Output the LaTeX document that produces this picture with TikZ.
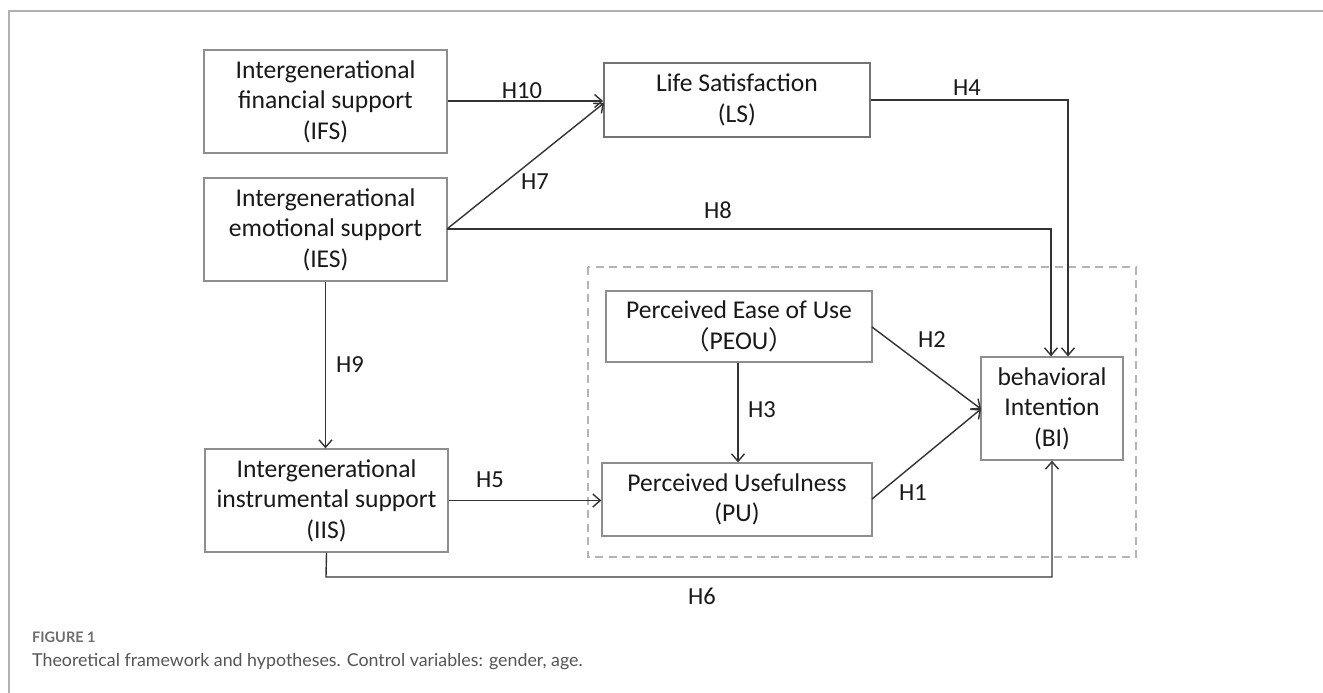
\documentclass[tikz,border=0pt]{standalone}
\usepackage{fontspec}
\setmainfont{Carlito}
\newfontfamily\cjk{Noto Sans CJK SC}
\newfontfamily\capfont{Lato}
\usetikzlibrary{arrows.meta}
\definecolor{boxgray}{HTML}{8E8E8E}
\definecolor{linegray}{HTML}{333333}
\definecolor{dashgray}{HTML}{B4B4B4}
\definecolor{framegray}{HTML}{B0B0B0}
\definecolor{capgray}{HTML}{555555}
\tikzset{
  bx/.style={draw=boxgray, line width=1.3pt, inner sep=0pt, align=center,
    font=\fontsize{25.6}{30.5}\selectfont, text=black!90},
  conn/.style={draw=linegray, line width=1.4pt, -{Straight Barb[length=7.5pt,width=13pt,line width=1.4pt]}},
  hl/.style={font=\fontsize{24.5}{26}\selectfont, text=black!90, inner sep=0pt},
}
\begin{document}
\begin{tikzpicture}[x=1pt,y=-1pt]
\useasboundingbox (0,0) rectangle (1323,693);
\fill[white] (0,0) rectangle (1323,693);
% outer frame
\draw[framegray, line width=1.2pt] (9,693) -- (9,11) -- (1323,11);
% dashed group
\draw[dashgray, line width=2pt, dash pattern=on 8pt off 5.5pt] (588,267) rectangle (1136,557);
% boxes
\node[bx, minimum width=243pt, minimum height=103pt] (IFS) at (325.5,101.5) {Intergenerational\\financial support\\(IFS)};
\node[bx, minimum width=243pt, minimum height=103pt] (IES) at (325.5,229.5) {Intergenerational\\emotional support\\(IES)};
\node[bx, minimum width=243pt, minimum height=103pt] (IIS) at (326.5,500.5) {Intergenerational\\instrumental support\\(IIS)};
\node[bx, draw=black!55, line width=1.8pt, minimum width=266pt, minimum height=74pt] (LS) at (737,100) {Life Satisfaction\\(LS)};
\node[bx, minimum width=266pt, minimum height=71pt] (PEOU) at (739,326.5) {Perceived Ease of Use\\{\cjk （}PEOU{\cjk ）}};
\node[bx, minimum width=270pt, minimum height=73pt] (PU) at (737,499.5) {Perceived Usefulness\\(PU)};
\node[bx, minimum width=142pt, minimum height=103pt] (BI) at (1052,408.5) {behavioral\\Intention\\(BI)};
% helper coordinates
\coordinate (iesout) at (447,229);
\coordinate (h8c) at (1051,229);
\coordinate (h4c) at (1068,100);
\coordinate (h6a) at (326,577);
\coordinate (h6b) at (1052,577);
\coordinate (biin) at (981,409);
% connectors
\draw[conn] (IFS.east |- 0,101) -- (LS.west |- 0,101);
\draw[conn] (iesout) -- (604,103);
\draw[conn] (iesout) -- (h8c) -- (BI.north -| h8c);
\draw[conn] (LS.east) -- (h4c) -- (BI.north -| h4c);
\draw[conn] (IES.south) -- (IIS.north -| IES.south);
\draw[conn] (IIS.east) -- (PU.west |- IIS.east);
\draw[conn] (IIS.south) -- (h6a) -- (h6b) -- (BI.south);
\draw[conn] (PEOU.south -| 738,0) -- (PU.north -| 738,0);
\draw[conn] (872,327) -- (biin);
\draw[conn] (872,499) -- (biin);
% labels
\node[hl] (l10) at (522,91) {H10};
\node[hl] (l7) at (535,182) {H7};
\node[hl] (l8) at (718,210) {H8};
\node[hl] (l4) at (967,88) {H4};
\node[hl] (l9) at (350,365) {H9};
\node[hl] (l5) at (490,480) {H5};
\node[hl] (l6) at (702,596) {H6};
\node[hl] (l3) at (762,410) {H3};
\node[hl] (l2) at (932,340) {H2};
\node[hl] (l1) at (913,493) {H1};
% caption
\node[anchor=base west, inner sep=0pt, text=capgray!85, font=\capfont\bfseries\fontsize{14.5}{16}\selectfont] (fig) at (32,642) {FIGURE 1};
\node[anchor=base west, inner sep=0pt, text=capgray, font=\capfont\fontsize{17.8}{20}\selectfont] (cap) at (32,666) {Theoretical framework and hypotheses. Control variables: gender, age.};
\end{tikzpicture}
\end{document}
